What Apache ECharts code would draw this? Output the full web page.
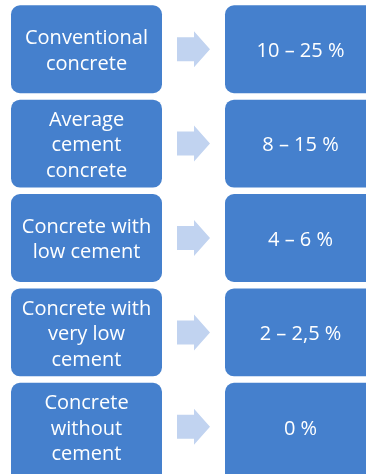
<!DOCTYPE html>
<html>
<head>
<meta charset="utf-8">
<script src="https://cdn.jsdelivr.net/npm/echarts@6/dist/echarts.min.js"></script>
<style>
  html, body { margin: 0; padding: 0; background: #fff; }
  #chart { width: 366px; height: 474px; }
</style>
</head>
<body>
<div id="chart"></div>
<script>
// Concrete types and their cement content ranges
const categories = [
  'Conventional\nconcrete',
  'Average\ncement\nconcrete',
  'Concrete with\nlow cement',
  'Concrete with\nvery low\ncement',
  'Concrete\nwithout\ncement'
];
const cementRanges = ['10 – 25 %', '8 – 15 %', '4 – 6 %', '2 – 2,5 %', '0 %'];

const BOX = '#4580CD';
const ARROW = '#C1D3F0';
const FONT = '20px "Open Sans", sans-serif';

const chart = echarts.init(document.getElementById('chart'));

function renderRow(params, api) {
  const idx = api.value(0);
  const center = api.coord([0, idx]);
  const band = api.size([0, 1])[1];
  const cy = center[1];
  const h = band - 6.5;
  const top = cy - h / 2;
  // the last row runs off the bottom edge of the canvas
  const boxH = idx === categories.length - 1 ? h + 12 : h;
  const textY = cy + 2;
  const leftX0 = api.coord([11, idx])[0];
  const leftX1 = api.coord([162, idx])[0];
  const rightX0 = api.coord([225, idx])[0];
  const rightX1 = api.coord([376, idx])[0];
  const aX0 = api.coord([177, idx])[0];
  const aXm = api.coord([194, idx])[0];
  const aX1 = api.coord([210, idx])[0];
  return {
    type: 'group',
    children: [
      {
        type: 'rect',
        shape: { x: leftX0, y: top, width: leftX1 - leftX0, height: boxH, r: 9 },
        style: { fill: BOX }
      },
      {
        type: 'text',
        style: {
          text: categories[idx],
          x: (leftX0 + leftX1) / 2, y: textY,
          align: 'center', verticalAlign: 'middle',
          fill: '#fff', font: FONT, lineHeight: 25.5
        }
      },
      {
        type: 'polygon',
        shape: {
          points: [
            [aX0, cy - 12], [aXm, cy - 12], [aXm, cy - 18], [aX1, cy],
            [aXm, cy + 18], [aXm, cy + 12], [aX0, cy + 12]
          ]
        },
        style: { fill: ARROW }
      },
      {
        type: 'rect',
        shape: { x: rightX0, y: top, width: rightX1 - rightX0, height: boxH, r: 9 },
        style: { fill: BOX }
      },
      {
        type: 'text',
        style: {
          text: cementRanges[idx],
          x: (rightX0 + rightX1) / 2, y: textY,
          align: 'center', verticalAlign: 'middle',
          fill: '#fff', font: FONT
        }
      }
    ]
  };
}

chart.setOption({
  animation: false,
  grid: { left: 0, right: 0, top: 2, bottom: 0 },
  xAxis: { type: 'value', min: 0, max: 366, show: false },
  yAxis: {
    type: 'category', inverse: true, show: false,
    data: categories.map((c, i) => i)
  },
  series: [{
    type: 'custom',
    clip: false,
    renderItem: renderRow,
    data: categories.map((c, i) => [i])
  }]
});
</script>
</body>
</html>
